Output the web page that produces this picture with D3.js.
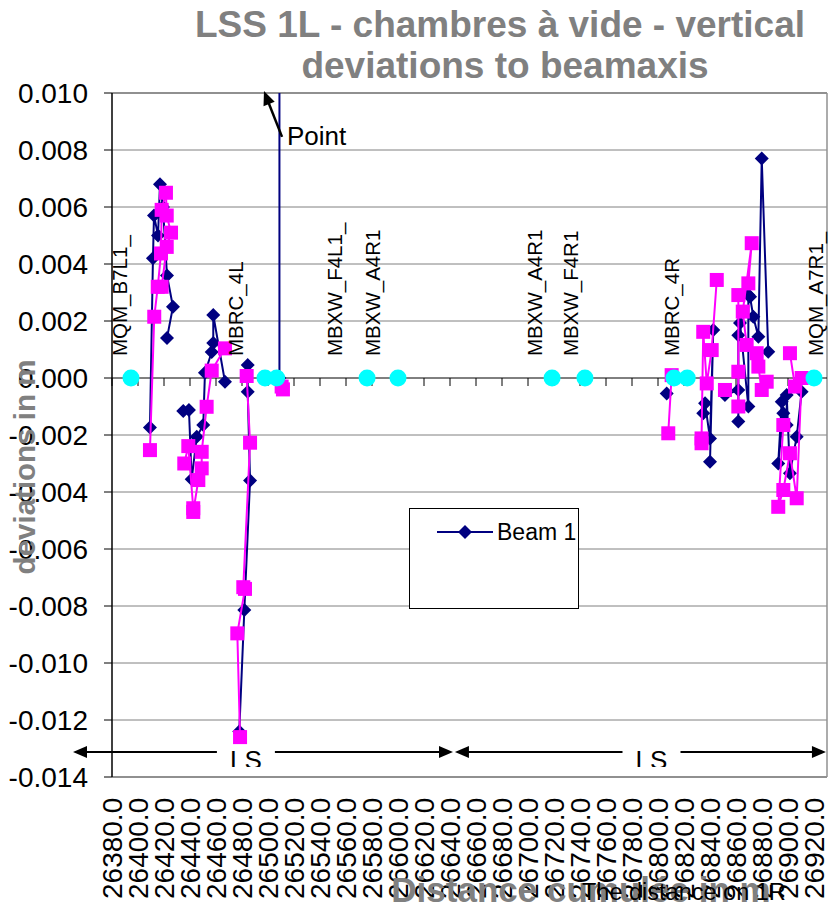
<!DOCTYPE html>
<html><head><meta charset="utf-8">
<script src="https://cdn.jsdelivr.net/npm/d3@7"></script>
<style>body{margin:0;background:#fff}svg{display:block;font-family:"Liberation Sans",Arial,sans-serif}</style>
</head><body><svg id="c" width="829" height="904"></svg>
<script>
// ---------- data ----------
const xTicks = [26380,26400,26420,26440,26460,26480,26500,26520,26540,26560,26580,26600,26620,26640,
                26660,26680,26700,26720,26740,26760,26780,26800,26820,26840,26860,26880,26900,26920];
const yTicks = [0.010,0.008,0.006,0.004,0.002,0.000,-0.002,-0.004,-0.006,-0.008,-0.010,-0.012,-0.014];

// Beam 1 (navy diamonds); null = gap in the line
const beam1Dist = [
 26409.2,26411.5,26412.3,26415.4,26416.9,26419.2,26422.3,26426.9,26422.3,null,
 26434.8,26439.2,26441.3,26445.2,26450.2,26451.5,26456.7,26457.9,26457.9,26466.9,null,
 26484.4,26484.4,26486.2,26481.8,26477.9,null,
 26508.8,26508.8,null,
 26806.7,null,
 26834.8,26836.2,26840.0,26842.5,26840.0,null,
 26851.5,26861.8,26861.8,26861.8,26863.1,26869.5,26869.5,26870.8,26873.3,26877.2,26879.8,26884.8,null,
 26895.2,26892.5,26896.4,26899.0,26899.0,26901.5,26906.7,26910.5];
const beam1Dev = [
 -0.00174,0.0042,0.0057,0.0050,0.0068,0.0060,0.0036,0.0025,0.0014,null,
 -0.00116,-0.00112,-0.00355,-0.00206,-0.00165,0.00018,0.00091,0.00123,0.00221,-0.00013,null,
 0.00046,-0.00048,-0.0036,-0.00814,-0.0124,null,
 0.0000,0.0150,null,
 -0.00054,null,
 -0.00124,-0.00089,-0.00212,0.00168,-0.00294,null,
 -0.0006,-0.00042,-0.00153,0.0015,0.00193,-0.001,0.00291,0.00285,0.00215,0.00145,0.0077,0.00092,null,
 -0.00083,-0.003,-0.00124,-0.00165,-0.0006,-0.00334,-0.00206,-0.00048];

// second series (magenta squares)
const beam2Dist = [
 26409.2,26412.5,26415.2,26417.7,26418.2,26421.5,26422.1,26425.4,26422.1,26418.2,null,
 26435.6,26438.7,26442.5,26442.5,26446.4,26449.0,26449.0,26452.8,26456.7,26466.9,null,
 26483.6,26486.2,26481.0,26482.3,26476.4,26478.5,null,
 26510.5,26511.5,null,
 26807.9,26810.5,null,
 26845.2,26841.3,26837.5,26834.8,26833.5,26833.5,null,
 26851.5,null,
 26861.8,26861.8,26861.8,26869.5,26872.1,26865.2,26868.2,26875.9,26877.2,26879.8,26883.6,null,
 26901.5,26905.4,26910.5,26906.7,26901.5,26896.4,26892.5,26896.4];
const beam2Dev = [
 -0.00253,0.00215,0.0032,0.00437,0.0059,0.0065,0.0057,0.0051,0.0046,0.0032,null,
 -0.0030,-0.00239,-0.00457,-0.0047,-0.00358,-0.00317,-0.00259,-0.00101,0.00026,0.00104,null,
 0.00007,-0.00227,-0.00734,-0.0074,-0.00896,-0.0126,null,
 -0.0003,-0.0004,null,
 -0.00194,0.0001,null,
 0.00344,0.00098,-0.00019,0.00162,-0.00212,-0.00229,null,
 -0.00042,null,
 -0.001,0.00022,0.00291,0.00332,0.00473,0.00233,0.00116,0.00087,0.0004,-0.00042,-0.00013,null,
 0.00087,-0.0003,0.0,-0.00422,-0.00264,-0.00393,-0.00452,-0.00165];

// magnet positions (cyan) and names
const magnetDist = [26394.6,26497.7,26506.7,26576.2,26600.0,26718.5,26743.8,26812.3,26822.5,26920.0];
const magnetDev  = [0,0,0,0,0,0,0,0,0,0];
const magnetNames = ["MQM_B7L1_","MBRC_4L","MBXW_F4L1_","MBXW_A4R1","MBXW_A4R1","MBXW_F4R1","MBRC_4R","MQM_A7R1_"];
const magnetNameDist = [26386,26475,26551.5,26580,26705,26733,26810,26921];

// annotations (data units)
const lsStart = [26350, 26643.8];
const lsEnd   = [26642.3, 26929.2];
const lsLabelDist = [26483, 26795];
const lsDev = -0.01312;
const pointFrom = [26510.8, 0.00846];
const pointTo   = [26496.9, 0.01007];

// ---------- drawing ----------
const W=829,H=904;
const P={l:112,r:827,t:93,b:777};
const x=d3.scaleLinear().domain([26380,26930]).range([P.l,P.r]);
const y=d3.scaleLinear().domain([-0.014,0.010]).range([P.b,P.t]);
const svg=d3.select('#c');
svg.append('rect').attr('width',W).attr('height',H).attr('fill','#fff');
const defs=svg.append('defs');
defs.append('clipPath').attr('id','pc').append('rect')
  .attr('x',P.l-12).attr('y',P.t).attr('width',P.r-P.l+24).attr('height',P.b-P.t+12);

const GRAY='#808080', NAVY='#000080', MAG='#ff00ff', CYAN='#00ffff';

// chart title
const title=svg.append('text').attr('text-anchor','middle').attr('font-weight','bold')
  .attr('font-size',37).attr('fill',GRAY);
title.append('tspan').attr('x',500).attr('y',37).text('LSS 1L - chambres à vide - vertical');
title.append('tspan').attr('x',505).attr('y',78).text('deviations to beamaxis');

// gridlines
yTicks.filter(v=>v!==0 && v!==-0.014 && v!==0.010).forEach(v=>{
  svg.append('line').attr('x1',P.l).attr('x2',P.r).attr('y1',y(v)).attr('y2',y(v))
    .attr('stroke',GRAY).attr('stroke-width',1);
});
// plot frame
svg.append('line').attr('x1',P.l).attr('x2',P.r).attr('y1',y(0.010)).attr('y2',y(0.010)).attr('stroke','#909090').attr('stroke-width',2);
svg.append('line').attr('x1',P.l).attr('x2',P.r).attr('y1',y(-0.014)).attr('y2',y(-0.014)).attr('stroke','#909090').attr('stroke-width',2);
svg.append('line').attr('x1',P.r).attr('x2',P.r).attr('y1',P.t).attr('y2',P.b).attr('stroke','#909090').attr('stroke-width',1.5);

// zero axis with ticks
svg.append('line').attr('x1',P.l).attr('x2',P.r).attr('y1',y(0)).attr('y2',y(0)).attr('stroke','#000').attr('stroke-width',1);
xTicks.forEach(t=>{
  svg.append('line').attr('x1',x(t)).attr('x2',x(t)).attr('y1',y(0)).attr('y2',y(0)+8).attr('stroke','#000').attr('stroke-width',1);
});
// y axis
svg.append('line').attr('x1',P.l).attr('x2',P.l).attr('y1',P.t).attr('y2',P.b).attr('stroke','#000').attr('stroke-width',1.5);
yTicks.forEach(v=>{
  svg.append('line').attr('x1',P.l-8).attr('x2',P.l).attr('y1',y(v)).attr('y2',y(v)).attr('stroke','#000');
  svg.append('text').attr('x',88).attr('y',y(v)).attr('dy','0.35em').attr('text-anchor','end')
    .attr('font-size',28).attr('fill','#000').text(v.toFixed(3));
});
// x tick labels
xTicks.forEach(t=>{
  svg.append('text').attr('transform',`translate(${x(t)+10},899) rotate(-90)`)
    .attr('text-anchor','start').attr('font-size',28).attr('fill','#000').text(t.toFixed(1));
});

// axis titles (drawn over the tick labels, as in the reference)
svg.append('text').attr('transform',`translate(35,467) rotate(-90)`)
  .attr('text-anchor','middle').attr('font-weight','bold').attr('font-size',29.5).attr('fill',GRAY)
  .text('deviations in m');
svg.append('text').attr('x',581).attr('y',902).attr('text-anchor','middle')
  .attr('font-weight','bold').attr('font-size',35).attr('fill',GRAY).text('Distance cumulée in m');
svg.append('text').attr('x',582).attr('y',900).attr('font-size',23.5).attr('fill','#000').text('The distance on 1R');

// data
const clipG=svg.append('g').attr('clip-path','url(#pc)');
function series(dist,dev){return dist.map((d,i)=>({d:d,v:dev[i]}));}
const line=d3.line().defined(p=>p.d!==null&&p.v!==null).x(p=>x(p.d)).y(p=>y(p.v));
const s1=series(beam1Dist,beam1Dev), s2=series(beam2Dist,beam2Dev);
const diamond='M0,-7L7,0L0,7L-7,0Z';

clipG.append('path').attr('d',line(s1)).attr('fill','none').attr('stroke',NAVY).attr('stroke-width',2);
clipG.selectAll('.m1').data(s1.filter(line.defined())).join('path').attr('class','m1')
  .attr('d',diamond).attr('transform',p=>`translate(${x(p.d)},${y(p.v)})`).attr('fill',NAVY);

clipG.append('path').attr('d',line(s2)).attr('fill','none').attr('stroke',MAG).attr('stroke-width',2);
clipG.selectAll('.m2').data(s2.filter(line.defined())).join('rect').attr('class','m2')
  .attr('x',p=>x(p.d)-7).attr('y',p=>y(p.v)-7).attr('width',14).attr('height',14).attr('fill',MAG);

// magnet names
magnetNames.forEach((n,i)=>{
  svg.append('text').attr('transform',`translate(${x(magnetNameDist[i])+7.5},${y(0)-22}) rotate(-90)`)
    .attr('text-anchor','start').attr('font-size',20.5).attr('fill','#000').text(n);
});
// magnets
svg.selectAll('.mag').data(magnetDist).join('circle').attr('class','mag')
  .attr('cx',d=>x(d)).attr('cy',(d,i)=>y(magnetDev[i])).attr('r',8.5).attr('fill',CYAN);

// arrow helper
function head(tx,ty,fx,fy,len,hw){
  const dx=tx-fx, dy=ty-fy, L=Math.hypot(dx,dy), ux=dx/L, uy=dy/L;
  const bx=tx-ux*len, by=ty-uy*len;
  return `M${tx},${ty}L${bx-uy*hw},${by+ux*hw}L${bx+uy*hw},${by-ux*hw}Z`;
}
// Point annotation
const pf=[x(pointFrom[0]),y(pointFrom[1])], pt=[x(pointTo[0]),y(pointTo[1])];
svg.append('line').attr('x1',pf[0]).attr('y1',pf[1]).attr('x2',pt[0]+(pf[0]-pt[0])*0.2).attr('y2',pt[1]+(pf[1]-pt[1])*0.2)
  .attr('stroke','#000').attr('stroke-width',2.5);
svg.append('path').attr('d',head(pt[0],pt[1],pf[0],pf[1],14,6)).attr('fill','#000');
svg.append('text').attr('x',x(26514.6)).attr('y',y(0.00818)).attr('font-size',26).attr('fill','#000').text('Point');

// LS arrows
defs.append('clipPath').attr('id','lsc').append('rect').attr('x',0).attr('y',700).attr('width',W).attr('height',67);
lsStart.forEach((s,i)=>{
  const a=x(s), b=x(lsEnd[i]), yy=y(lsDev), c=x(lsLabelDist[i]);
  svg.append('line').attr('x1',a+8).attr('x2',c-29).attr('y1',yy).attr('y2',yy).attr('stroke','#000').attr('stroke-width',2);
  svg.append('line').attr('x1',c+29).attr('x2',b-8).attr('y1',yy).attr('y2',yy).attr('stroke','#000').attr('stroke-width',2);
  svg.append('path').attr('d',head(a,yy,b,yy,14,6)).attr('fill','#000');
  svg.append('path').attr('d',head(b,yy,a,yy,14,6)).attr('fill','#000');
  svg.append('text').attr('x',c).attr('y',yy+17).attr('text-anchor','middle').attr('font-size',26)
    .attr('fill','#000').attr('clip-path','url(#lsc)').text('LS');
});

// legend
const lg=svg.append('g');
lg.append('rect').attr('x',409.5).attr('y',508.5).attr('width',169).attr('height',100).attr('fill','#fff').attr('stroke','#000').attr('stroke-width',1);
lg.append('line').attr('x1',437).attr('x2',493).attr('y1',532).attr('y2',532).attr('stroke',NAVY).attr('stroke-width',2);
lg.append('path').attr('d',diamond).attr('transform','translate(465,532)').attr('fill',NAVY);
lg.append('text').attr('x',497).attr('y',532).attr('dy','0.35em').attr('font-size',23).attr('fill','#000').text('Beam 1');
</script></body></html>
